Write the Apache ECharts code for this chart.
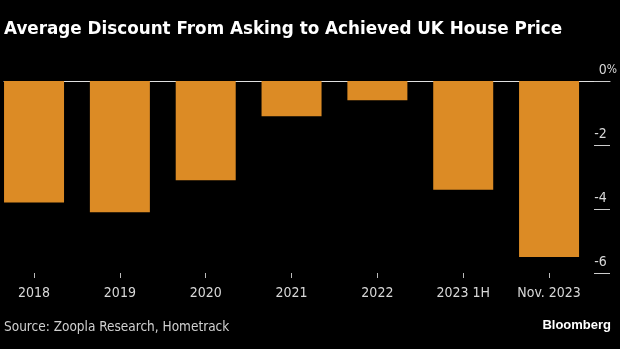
<!DOCTYPE html>
<html>
<head>
<meta charset="utf-8">
<script src="https://cdn.jsdelivr.net/npm/echarts@6/dist/echarts.min.js"></script>
<style>
html,body{margin:0;padding:0;background:#000;}
#c{width:620px;height:349px;}
</style>
</head>
<body>
<div id="c"></div>
<script>
const categories = ['2018', '2019', '2020', '2021', '2022', '2023 1H', 'Nov. 2023'];
const discountValues = [-3.8, -4.1, -3.1, -1.1, -0.6, -3.4, -5.5];
const yTicks = [0, -2, -4, -6];

const labelFont = "'Liberation Sans Narrow', 'DejaVu Sans Condensed', 'Liberation Sans', sans-serif";
const barData = discountValues.map((v, i) => [i, v]);
const xIdx = categories.map((c, i) => i);

const chart = echarts.init(document.getElementById('c'), null, {renderer: 'canvas'});
chart.setOption({
  backgroundColor: '#000000',
  animation: false,
  title: [
    {
      text: 'Average Discount From Asking to Achieved UK House Price',
      left: 4, top: 21, padding: 0,
      textStyle: {color: '#ffffff', fontFamily: 'DejaVu Sans', fontWeight: 'bold', fontSize: 16.8}
    },
    {
      text: 'Source: Zoopla Research, Hometrack',
      left: 4, top: 320, padding: 0,
      textStyle: {color: '#d0d0d0', fontFamily: labelFont, fontWeight: 'normal', fontSize: 13.5}
    },
    {
      text: 'Bloomberg',
      right: 9, top: 319, padding: 0,
      textStyle: {color: '#ffffff', fontFamily: 'Liberation Sans', fontWeight: 'bold', fontSize: 13}
    }
  ],
  grid: {left: 4, right: 10, top: 81, height: 192, containLabel: false},
  xAxis: [
    {
      type: 'value',
      min: -0.35, max: 6.71,
      position: 'bottom',
      splitLine: {show: false},
      axisLine: {show: false, onZero: false},
      axisTick: {show: true, customValues: xIdx, length: 5, lineStyle: {color: '#bbbbbb', width: 1}},
      axisLabel: {
        show: true, customValues: xIdx, margin: 13,
        color: '#d8d8d8', fontFamily: labelFont, fontSize: 14,
        formatter: v => categories[Math.round(v)]
      }
    },
    {
      type: 'value',
      min: -0.35, max: 6.71,
      position: 'top',
      splitLine: {show: false},
      axisLine: {show: true, onZero: false, lineStyle: {color: '#e0e0e0', width: 1}},
      axisTick: {show: false},
      axisLabel: {show: false}
    }
  ],
  yAxis: {
    type: 'value',
    position: 'right',
    min: -6, max: 0, interval: 2,
    splitLine: {show: false},
    axisLine: {show: false, onZero: false},
    axisTick: {show: true, inside: true, length: 16, lineStyle: {color: '#cccccc', width: 1}},
    axisLabel: {
      inside: true, margin: -7, align: 'right', verticalAlign: 'bottom',
      padding: [0, 0, 4, 0],
      color: '#d8d8d8', fontFamily: labelFont, fontSize: 14,
      formatter: v => v === 0 ? '0{p|%}' : (String(v) + '{h|%}'),
      rich: {
        p: {color: '#d8d8d8', fontFamily: labelFont, fontSize: 12},
        h: {color: 'rgba(0,0,0,0)', fontFamily: labelFont, fontSize: 12}
      }
    }
  },
  series: [{
    type: 'bar',
    xAxisIndex: 0,
    data: barData,
    barWidth: 60,
    itemStyle: {color: '#dc8b25'}
  }]
});
</script>
</body>
</html>
